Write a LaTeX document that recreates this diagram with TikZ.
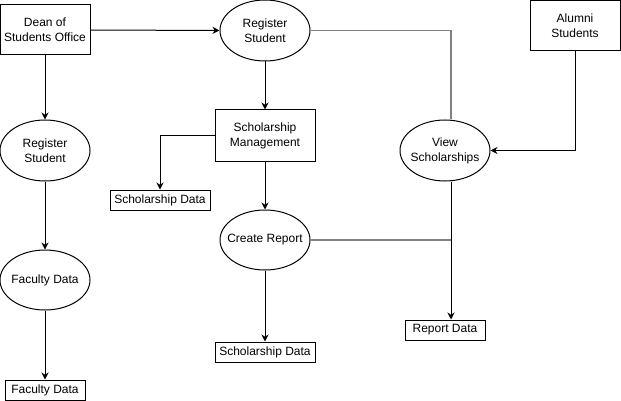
\documentclass[tikz,border=0pt]{standalone}
\usepackage{fontspec}
\setmainfont{Liberation Sans}
\usetikzlibrary{shapes.geometric,arrows.meta}

\tikzset{
  box/.style={draw,line width=1pt,align=center,inner sep=0pt,minimum width=90pt,minimum height=50pt},
  proc/.style={draw,ellipse,line width=1pt,align=center,inner ysep=0pt,inner xsep=-10pt,minimum width=90pt,minimum height=61pt},
  store/.style={draw,line width=1pt,inner sep=0pt,minimum width=80pt,minimum height=20pt},
  arr/.style={line width=1pt,-{Stealth[length=7pt,width=7pt]}},
  gline/.style={line width=1.2pt,draw=black!50}
}

\begin{document}
\begin{tikzpicture}[x=1pt,y=-1pt,font=\fontsize{12}{15}\selectfont]
    \useasboundingbox (0,0) rectangle (621,401);

    \node[box] (dean) at (45,30) {Dean of\\Students Office};
    \node[proc] (reg) at (265,30.5) {Register\\Student};
    \node[box] (alumni) at (575,25.5) {Alumni\\Students};
    \node[proc] (reg2) at (45,150.5) {Register\\Student};
    \node[box,minimum width=100pt,minimum height=51pt] (mgmt) at (265,135.5) {Scholarship\\Management};
    \node[store,minimum width=100pt] (sdata1) at (160,200) {Scholarship Data};
    \node[proc] (view) at (445,150.5) {View\\Scholarships};
    \node[proc,minimum height=60pt] (report) at (265,240) {Create Report};
    \node[proc,minimum height=60pt] (fac) at (45,280) {Faculty Data};
    \node[store,minimum width=100pt] (sdata2) at (265,352) {Scholarship Data};
    \node[store] (rdata) at (445,330) {Report Data};
    \node[store] (fdata) at (45,390) {Faculty Data};
    \coordinate (bus) at (451,240);

    % left column
    \draw[arr] (dean) -- (reg2);
    \draw[arr] (reg2) -- (fac);
    \draw[arr] (fac) -- (fdata);

    % middle column
    \draw[arr] (dean) -- (reg);
    \draw[arr] (reg) -- (mgmt);
    \draw[arr] (mgmt.west) -| (sdata1);
    \draw[arr] (mgmt) -- (report);
    \draw[arr] (report) -- (sdata2);

    % right part
    \draw[gline] (reg.east) -| ([xshift=6pt]view.north);
    \draw[arr] (alumni.south) |- (view.east);
    \draw[arr] ([xshift=6pt]view.south) -- ([xshift=6pt]rdata.north);
    \draw[gline] (report.east) -- (bus);
\end{tikzpicture}
\end{document}
